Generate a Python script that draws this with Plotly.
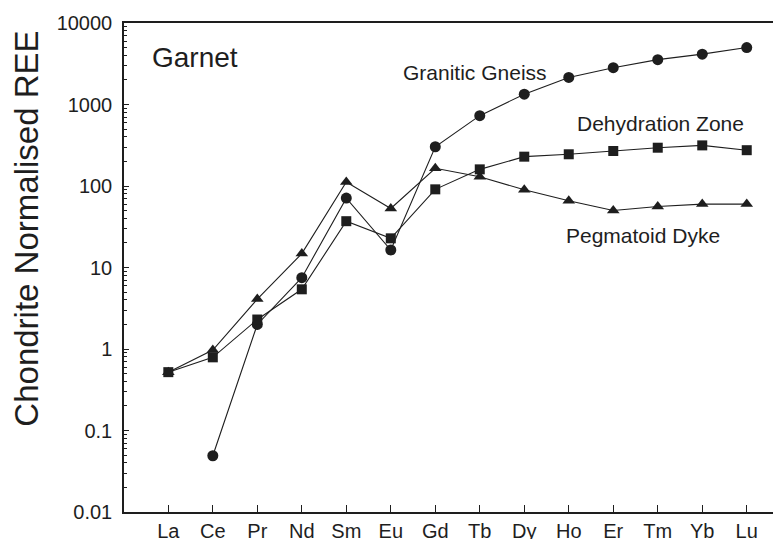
import plotly.graph_objects as go

elements = ["La", "Ce", "Pr", "Nd", "Sm", "Eu", "Gd", "Tb", "Dy", "Ho", "Er", "Tm", "Yb", "Lu"]
granitic_gneiss = [None, 0.049, 2.0, 7.5, 71, 16.4, 303, 730, 1340, 2150, 2830, 3550, 4150, 5000]
dehydration_zone = [0.52, 0.79, 2.3, 5.4, 37, 22.8, 91, 160, 229, 245, 269, 295, 315, 275]
pegmatoid_dyke = [0.52, 0.97, 4.1, 14.8, 112, 53, 165, 130, 90, 66, 50, 56, 60, 60]

ytick_vals = [0.01, 0.1, 1, 10, 100, 1000, 10000]
ytick_text = ["0.01", "0.1", "1", "10", "100", "1000", "10000"]
minor_vals = [m * 10 ** e for e in range(-2, 4) for m in range(2, 10)]

INK = "#1e1e1e"
FONT = "Liberation Sans, Arial, sans-serif"

fig = go.Figure()
x_idx = list(range(len(elements)))

fig.add_trace(go.Scatter(
    x=x_idx, y=granitic_gneiss, mode="lines+markers", connectgaps=False,
    line=dict(color=INK, width=1.1),
    marker=dict(symbol="circle", size=11, color=INK),
    name="Granitic Gneiss"))
fig.add_trace(go.Scatter(
    x=x_idx, y=dehydration_zone, mode="lines+markers",
    line=dict(color=INK, width=1.1),
    marker=dict(symbol="square", size=10, color=INK),
    name="Dehydration Zone"))
fig.add_trace(go.Scatter(
    x=x_idx, y=pegmatoid_dyke, mode="lines+markers",
    line=dict(color=INK, width=1.1),
    marker=dict(symbol="triangle-up", size=11, color=INK),
    name="Pegmatoid Dyke"))

fig.update_layout(
    width=773, height=531,
    margin=dict(l=116, r=0, t=15, b=27, autoexpand=False),
    paper_bgcolor="white", plot_bgcolor="white",
    showlegend=False,
    font=dict(family=FONT, color=INK, size=20),
    xaxis=dict(
        range=[-0.996, 13.77], automargin=False,
        tickmode="array", tickvals=x_idx, ticktext=elements,
        ticks="inside", ticklen=7, tickwidth=1, tickcolor=INK,
        showline=True, linecolor=INK, linewidth=1.5, mirror=True,
        showgrid=False, zeroline=False,
        tickfont=dict(size=20, family=FONT, color=INK),
    ),
    yaxis=dict(
        type="log", range=[-2, 4], automargin=False,
        tickmode="array", tickvals=ytick_vals, ticktext=ytick_text,
        ticks="inside", ticklen=5, tickwidth=1, tickcolor=INK,
        minor=dict(tickmode="array", tickvals=minor_vals, ticks="inside",
                   ticklen=3, tickwidth=1, tickcolor=INK, showgrid=False),
        showline=True, linecolor=INK, linewidth=1.5,
        showgrid=False, zeroline=False,
        tickfont=dict(size=20, family=FONT, color=INK),
        ticklabelstandoff=6,
    ),
    annotations=[
        dict(text="Chondrite Normalised REE", textangle=-90, xref="paper", yref="paper",
             x=-0.148, y=0.579, xanchor="center", yanchor="middle", showarrow=False,
             font=dict(size=33, family=FONT, color=INK)),
        dict(text="Garnet", xref="paper", yref="paper", x=(195 - 124) / 657, y=(512 - 58) / 489,
             xanchor="center", yanchor="middle", showarrow=False,
             font=dict(size=28, family=FONT, color=INK)),
        dict(text="Granitic Gneiss", xref="paper", yref="paper", x=(475 - 124) / 657, y=(512 - 72) / 489,
             xanchor="center", yanchor="middle", showarrow=False,
             font=dict(size=21, family=FONT, color=INK)),
        dict(text="Dehydration Zone", xref="paper", yref="paper", x=(660 - 124) / 657, y=(512 - 123) / 489,
             xanchor="center", yanchor="middle", showarrow=False,
             font=dict(size=21, family=FONT, color=INK)),
        dict(text="Pegmatoid Dyke", xref="paper", yref="paper", x=(643 - 124) / 657, y=(512 - 235) / 489,
             xanchor="center", yanchor="middle", showarrow=False,
             font=dict(size=21, family=FONT, color=INK)),
    ],
)

fig.write_html("out.html")
